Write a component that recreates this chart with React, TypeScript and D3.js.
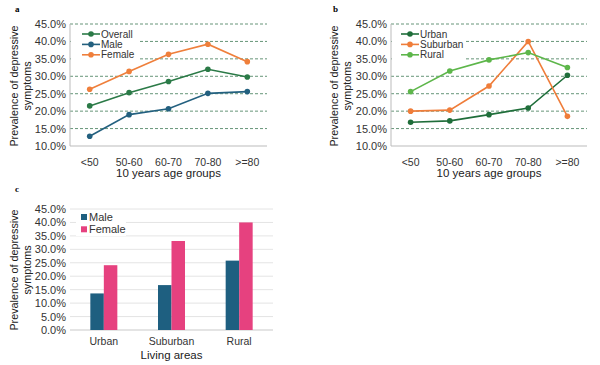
import React, { useRef, useEffect } from 'react';
import * as d3 from 'd3';

const ageGroups = ['<50', '50-60', '60-70', '70-80', '>=80'];
const overall = [21.5, 25.3, 28.5, 32.0, 29.8];
const male = [12.8, 19.0, 20.7, 25.1, 25.6];
const female = [26.3, 31.4, 36.3, 39.2, 34.2];

const urban = [16.8, 17.2, 19.0, 20.9, 30.3];
const suburban = [20.0, 20.3, 27.2, 40.0, 18.5];
const rural = [25.6, 31.5, 34.7, 36.8, 32.5];

const areas = ['Urban', 'Suburban', 'Rural'];
const maleByArea = [13.6, 16.7, 25.8];
const femaleByArea = [24.1, 33.1, 40.0];

const lineTicks = [10, 15, 20, 25, 30, 35, 40, 45];
const barTicks = [0, 5, 10, 15, 20, 25, 30, 35, 40, 45];

const FONT = "Arial, 'Liberation Sans', sans-serif";

type Series = { name: string; values: number[]; color: string };

const App = () => {
  const ref = useRef<SVGSVGElement>(null);

  useEffect(() => {
    const svg = d3.select(ref.current);
    svg.selectAll('*').remove();

    const yTitle = (g: any, cx: number, cy: number) => {
      const t = g.append('text')
        .attr('transform', `translate(${cx},${cy}) rotate(-90)`)
        .attr('text-anchor', 'middle')
        .attr('font-family', FONT)
        .attr('font-size', 10.8)
        .attr('fill', '#222');
      t.append('tspan').attr('x', 0).attr('y', 0).text('Prevalence of depressive');
      t.append('tspan').attr('x', 0).attr('y', 13).text('symptoms');
    };

    const panelLabel = (x: number, y: number, s: string) => {
      svg.append('text')
        .attr('x', x).attr('y', y)
        .attr('font-family', "'Liberation Serif', 'Times New Roman', serif")
        .attr('font-weight', 'bold')
        .attr('font-size', 9)
        .text(s);
    };

    const lineChart = (left: number, right: number, top: number, bottom: number, series: Series[], legendX: number, boxRight: number) => {
      const g = svg.append('g');
      const x = d3.scaleBand().domain(ageGroups).range([left, right]);
      const y = d3.scaleLinear().domain([10, 45]).range([bottom, top]);

      // dashed gridlines
      g.selectAll('.grid').data(lineTicks.slice(1)).enter().append('line')
        .attr('x1', left).attr('x2', right)
        .attr('y1', (d) => y(d)).attr('y2', (d) => y(d))
        .attr('stroke', '#3f7a55').attr('stroke-width', 0.8)
        .attr('stroke-dasharray', '3,2');

      // legend box hides the grid behind it
      g.append('rect').attr('x', left + 1).attr('y', top + 5)
        .attr('width', boxRight - left - 1).attr('height', 32).attr('fill', 'white');

      // axes lines
      g.append('line').attr('x1', left).attr('x2', left).attr('y1', top).attr('y2', bottom)
        .attr('stroke', '#bbb');
      g.append('line').attr('x1', left).attr('x2', right).attr('y1', bottom).attr('y2', bottom)
        .attr('stroke', '#bbb');

      g.selectAll('.ytick').data(lineTicks).enter().append('text')
        .attr('x', left - 4).attr('y', (d) => y(d) + 4)
        .attr('text-anchor', 'end')
        .attr('font-family', FONT).attr('font-size', 11).attr('fill', '#333')
        .text((d) => d.toFixed(1) + '%');

      g.selectAll('.xtick').data(ageGroups).enter().append('text')
        .attr('x', (d) => x(d)! + x.bandwidth() / 2).attr('y', bottom + 20)
        .attr('text-anchor', 'middle')
        .attr('font-family', FONT).attr('font-size', 10.5).attr('fill', '#333')
        .text((d) => d);

      g.append('text')
        .attr('x', (left + right) / 2).attr('y', bottom + 31)
        .attr('text-anchor', 'middle')
        .attr('font-family', FONT).attr('font-size', 11.5).attr('fill', '#222')
        .text('10 years age groups');

      const line = d3.line<number>()
        .x((_, i) => x(ageGroups[i])! + x.bandwidth() / 2)
        .y((d) => y(d));

      series.forEach((s) => {
        g.append('path').attr('d', line(s.values))
          .attr('fill', 'none').attr('stroke', s.color).attr('stroke-width', 1.6);
        g.selectAll(null).data(s.values).enter().append('circle')
          .attr('cx', (_, i) => x(ageGroups[i])! + x.bandwidth() / 2)
          .attr('cy', (d) => y(d)).attr('r', 2.8).attr('fill', s.color);
      });

      // legend
      series.forEach((s, i) => {
        const ly = top + 10 + i * 10.4;
        g.append('line').attr('x1', legendX).attr('x2', legendX + 18).attr('y1', ly).attr('y2', ly)
          .attr('stroke', s.color).attr('stroke-width', 1.6);
        g.append('circle').attr('cx', legendX + 9).attr('cy', ly).attr('r', 2.8).attr('fill', s.color);
        g.append('text').attr('x', legendX + 19).attr('y', ly + 3.6)
          .attr('font-family', FONT).attr('font-size', 10).attr('fill', '#333')
          .text(s.name);
      });

      return g;
    };

    const ga = lineChart(70, 267, 24, 146, [
      { name: 'Overall', values: overall, color: '#2b7a47' },
      { name: 'Male', values: male, color: '#23607f' },
      { name: 'Female', values: female, color: '#ef7f3b' },
    ], 82, 140);
    yTitle(ga, 18, 86);

    const gb = lineChart(391, 587, 24, 146, [
      { name: 'Urban', values: urban, color: '#1f6e3a' },
      { name: 'Suburban', values: suburban, color: '#ef7d3a' },
      { name: 'Rural', values: rural, color: '#5db64a' },
    ], 401, 464);
    yTitle(gb, 338, 86);

    panelLabel(15, 12, 'a');
    panelLabel(333, 12, 'b');
    panelLabel(15, 192, 'c');

    // bar chart c
    const gc = svg.append('g');
    const left = 70, right = 273, top = 209, bottom = 330;
    const x = d3.scaleBand().domain(areas).range([left, right]);
    const y = d3.scaleLinear().domain([0, 45]).range([bottom, top]);
    const bw = 13.5;

    gc.selectAll('.grid').data(barTicks).enter().append('line')
      .attr('x1', left).attr('x2', right)
      .attr('y1', (d) => y(d)).attr('y2', (d) => y(d))
      .attr('stroke', (d) => (d === 0 ? '#bbb' : '#ddd')).attr('stroke-width', 0.8);

    gc.selectAll('.ytick').data(barTicks).enter().append('text')
      .attr('x', left - 4).attr('y', (d) => y(d) + 4)
      .attr('text-anchor', 'end')
      .attr('font-family', FONT).attr('font-size', 11).attr('fill', '#333')
      .text((d) => d.toFixed(1) + '%');

    gc.selectAll('.m').data(maleByArea).enter().append('rect')
      .attr('x', (_, i) => x(areas[i])! + x.bandwidth() / 2 - bw)
      .attr('y', (d) => y(d)).attr('width', bw).attr('height', (d) => bottom - y(d))
      .attr('fill', '#1e5f80');
    gc.selectAll('.f').data(femaleByArea).enter().append('rect')
      .attr('x', (_, i) => x(areas[i])! + x.bandwidth() / 2)
      .attr('y', (d) => y(d)).attr('width', bw).attr('height', (d) => bottom - y(d))
      .attr('fill', '#e6417f');

    gc.selectAll('.xtick').data(areas).enter().append('text')
      .attr('x', (d) => x(d)! + x.bandwidth() / 2).attr('y', bottom + 15)
      .attr('text-anchor', 'middle')
      .attr('font-family', FONT).attr('font-size', 10.5).attr('fill', '#333')
      .text((d) => d);

    gc.append('text')
      .attr('x', (left + right) / 2).attr('y', bottom + 29)
      .attr('text-anchor', 'middle')
      .attr('font-family', FONT).attr('font-size', 11.5).attr('fill', '#222')
      .text('Living areas');

    // legend box
    gc.append('rect').attr('x', 76).attr('y', 211).attr('width', 50).attr('height', 25).attr('fill', 'white');
    [['Male', '#1e5f80'], ['Female', '#e6417f']].forEach(([name, color], i) => {
      const ly = 217 + i * 12.3;
      gc.append('rect').attr('x', 81).attr('y', ly - 3).attr('width', 6).attr('height', 6).attr('fill', color);
      gc.append('text').attr('x', 89).attr('y', ly + 4)
        .attr('font-family', FONT).attr('font-size', 11).attr('fill', '#333')
        .text(name);
    });

    yTitle(gc, 18, 270);
  }, []);

  return <svg ref={ref} width={600} height={365} style={{ position: 'absolute', left: 0, top: 0, background: 'white' }}></svg>;
};

export default App;
